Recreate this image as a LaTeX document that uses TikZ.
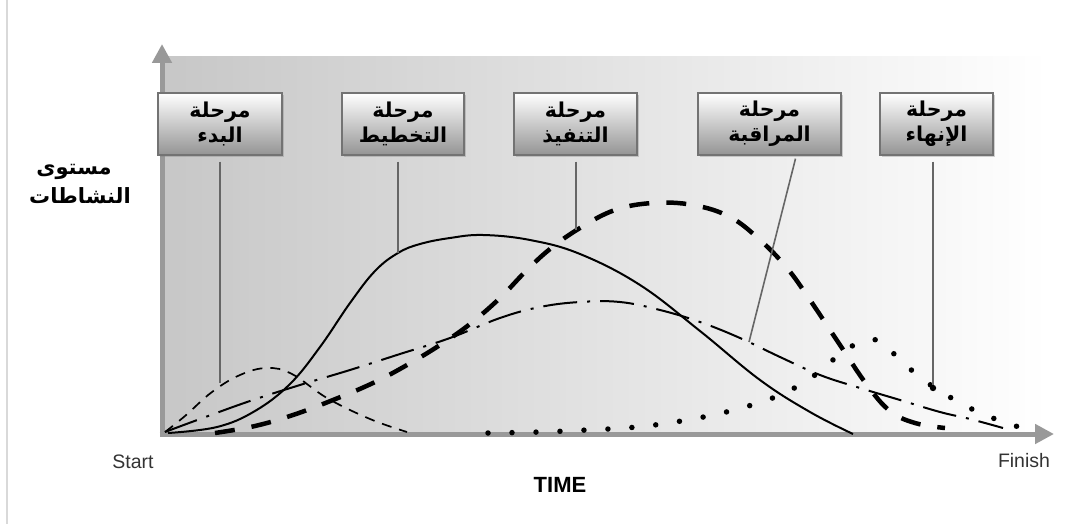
\documentclass[tikz,border=0pt]{standalone}
\usepackage{fontspec}
\setmainfont{Liberation Sans}
\newfontfamily\arabicfont[Script=Arabic]{DejaVu Sans}
\TeXXeTstate=1
\usetikzlibrary{arrows.meta,shadows}

\begin{document}
\begin{tikzpicture}[x=1pt,y=-1pt,
  axisline/.style={draw=black!40, line width=5pt,
    -{Triangle[length=19pt,width=19pt]}},
  phasebox/.style={draw=black!55, line width=1.3pt, minimum height=62pt,
    inner sep=0pt, shading=axis, top color=white, bottom color=black!42,
    drop shadow={shadow xshift=2pt, shadow yshift=-2pt, opacity=0.35},
    font=\arabicfont\bfseries\fontsize{20.5}{25}\selectfont, align=center},
  leader/.style={draw=black!60, line width=1.6pt},
  initcurve/.style={draw=black, line width=1.7pt, dash pattern=on 10pt off 8pt},
  plancurve/.style={draw=black, line width=2pt},
  execcurve/.style={draw=black, line width=4.5pt, dash pattern=on 20pt off 17pt},
  moncurve/.style={draw=black, line width=2pt,
    dash pattern=on 34pt off 10pt on 3pt off 10pt},
  closecurve/.style={draw=black, line width=5.5pt, line cap=round,
    dash pattern=on 0pt off 24pt},
  sidelabel/.style={font=\arabicfont\bfseries\fontsize{21}{24}\selectfont},
  endlabel/.style={font=\fontsize{19.5}{22}\selectfont, text=black!80}
]
\useasboundingbox (0,0) rectangle (1076,524);

% page edge line
\draw[black!15, line width=1.5pt] (7,0) -- (7,524);

% shaded plot area
\fill[left color=black!22, right color=white] (160,57) rectangle (1048,434);

% axes
\coordinate (origin) at (162,434);
\coordinate (ytop) at (162,44);
\coordinate (xend) at (1054,434);
\draw[axisline] ([yshift=-2.5pt]origin) -- (ytop);
\draw[axisline] ([xshift=-2.5pt]origin) -- (xend);

% initiation (thin dashed)
\draw[initcurve] plot[smooth, tension=0.65] coordinates {
  (165,432) (185,416) (212,392) (240,375) (267,368) (292,374)
  (327,398) (370,419) (407,432)};

% planning (solid)
\draw[plancurve] plot[smooth, tension=0.65] coordinates {
  (168,433) (217,427) (255,411) (290,384) (320,347) (350,303) (375,271)
  (398,253) (420,244) (450,238) (483,235) (530,240) (580,254) (640,285)
  (700,331) (760,380) (810,412) (853,434)};

% execution (thick dashed)
\draw[execcurve] plot[smooth, tension=0.65] coordinates {
  (215,433) (255,426) (293,415) (333,400) (373,383) (407,365) (440,345)
  (470,324) (500,298) (525,272) (550,249) (580,228) (615,210) (653,203)
  (693,205) (730,217) (760,240) (787,268) (810,300) (840,345) (867,385)
  (890,411) (915,423) (945,428)};

% monitoring (dash-dot)
\draw[moncurve] plot[smooth, tension=0.65] coordinates {
  (165,432) (200,419) (250,401) (300,385) (350,370) (400,354) (450,338)
  (500,318) (540,307) (580,302) (620,302) (660,310) (700,322) (740,338)
  (780,357) (820,375) (860,388) (900,400) (940,412) (970,419) (1003,428)};

% closure (dotted)
\draw[closecurve] plot[smooth, tension=0.65] coordinates {
  (488,433) (540,432) (587,430) (637,427) (687,420) (734,410) (780,395)
  (815,375) (840,354) (858,343) (870,340) (882,342) (898,358) (915,373)
  (935,388) (955,400) (976,411) (998,420) (1022,428)};

% phase boxes
\node[phasebox, minimum width=124pt] (b1) at (220,124)
  {\beginR مرحلة\endR\\\beginR البدء\endR};
\node[phasebox, minimum width=122pt] (b2) at (403,124)
  {\beginR مرحلة\endR\\\beginR التخطيط\endR};
\node[phasebox, minimum width=123pt] (b3) at (575.5,124)
  {\beginR مرحلة\endR\\\beginR التنفيذ\endR};
\node[phasebox, minimum width=143pt] (b4) at (769.5,124)
  {\beginR مرحلة\endR\\\beginR المراقبة\endR};
\node[phasebox, minimum width=113pt] (b5) at (936.5,124)
  {\beginR مرحلة\endR\\\beginR الإنهاء\endR};

% leader end points on the curves
\coordinate (e1) at (220,383);
\coordinate (e2) at (398,253);
\coordinate (e3) at (576,230);
\coordinate (e4) at (749,342);
\coordinate (e5) at (933,388);

\draw[leader] ([yshift=-6pt]b1.south -| e1) -- (e1);
\draw[leader] ([yshift=-6pt]b2.south -| e2) -- (e2);
\draw[leader] ([yshift=-6pt]b3.south -| e3) -- (e3);
\draw[leader] ([xshift=26pt,yshift=-3pt]b4.south) -- (e4);
\draw[leader] ([yshift=-6pt]b5.south -| e5) -- (e5);
\fill[black] (e5) circle (3.2pt);

% axis labels
\node[sidelabel] (lv1) at (74,172) {\beginR مستوى\endR};
\node[sidelabel] (lv2) at (80,196) {\beginR النشاطات\endR};
\node[endlabel] (start) at (133,462) {Start};
\node[endlabel] (finish) at (1024,461) {Finish};
\node[font=\bfseries\fontsize{22}{24}\selectfont] (time) at (560,485) {TIME};
\end{tikzpicture}
\end{document}
